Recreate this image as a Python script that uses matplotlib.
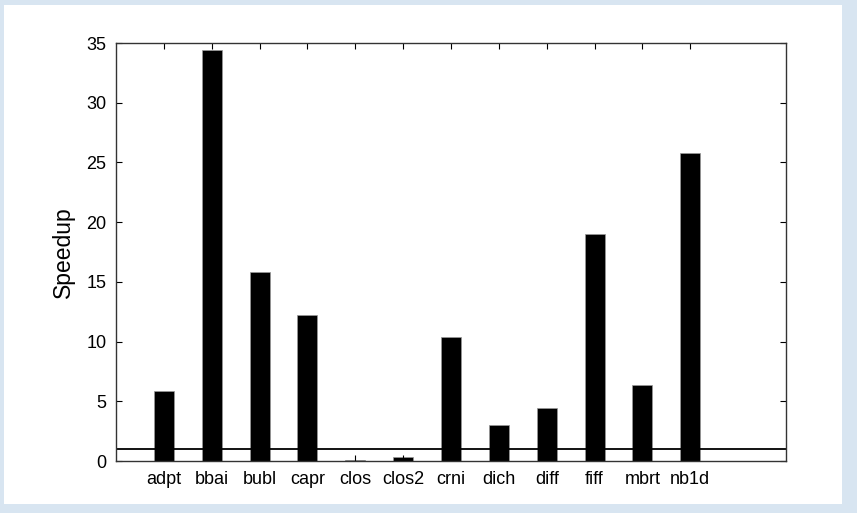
import numpy as np
import matplotlib.pyplot as plt
from matplotlib.patches import Rectangle

plt.rcParams['font.family'] = ['Liberation Sans', 'DejaVu Sans']

names = ["adpt", "bbai", "bubl", "capr", "clos", "clos2", "crni",
         "dich", "diff", "fiff", "mbrt", "nb1d"]
speedup = [5.9, 34.4, 15.8, 12.2, 0.1, 0.35, 10.4, 3.0, 4.4, 19.0, 6.4, 25.8]
baseline = 1

fig = plt.figure(figsize=(8.57, 5.13), dpi=100, facecolor='#d8e5f1')
# white panel on the light blue page
fig.patches.append(Rectangle((4/857, 1-504/513), 838/857, 499/513,
                             transform=fig.transFigure, facecolor='white',
                             edgecolor='none', zorder=-10))

ax = fig.add_axes([116/857, 1-461/513, 670/857, 418/513])
x = np.arange(1, len(names) + 1)
ax.bar(x, speedup, width=0.42, color='black', edgecolor='#999999', linewidth=0.5)
ax.axhline(baseline, color='black', lw=1.3)

ax.set_xlim(0, 14)
ax.set_ylim(0, 35)
ax.set_xticks(x)
ax.set_xticklabels(names)
ax.set_yticks(range(0, 36, 5))
ax.tick_params(direction='in', top=True, right=True, length=4, width=0.8,
               labelsize=13, colors='black', pad=7)
for s in ax.spines.values():
    s.set_color('#333333')
    s.set_linewidth(1)
ax.set_ylabel("Speedup", fontsize=16.5, labelpad=8)

fig.savefig("out.png", dpi=100, facecolor=fig.get_facecolor())
